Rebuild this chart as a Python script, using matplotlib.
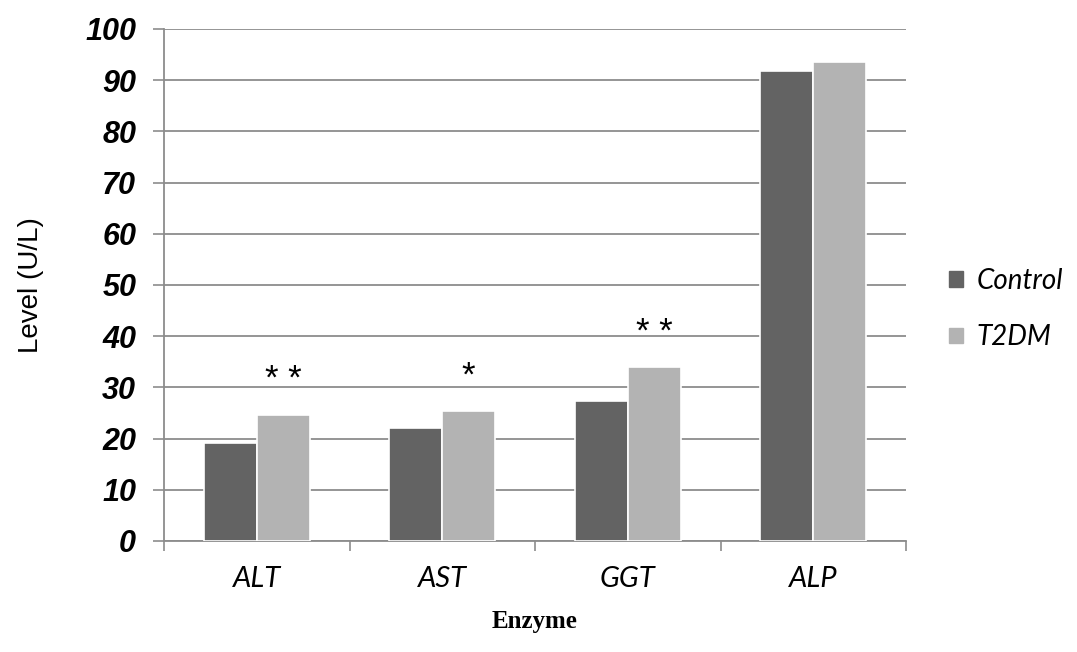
import matplotlib
matplotlib.use("Agg")
import matplotlib.pyplot as plt
import numpy as np
from matplotlib.patches import Patch

categories = ["ALT", "AST", "GGT", "ALP"]
control = [19.2, 22.0, 27.3, 91.8]
t2dm = [24.7, 25.4, 34.0, 93.6]
stars = ["* *", "*", "* *", ""]
yticks = [0, 10, 20, 30, 40, 50, 60, 70, 80, 90, 100]

fig = plt.figure(figsize=(10.77, 6.52), dpi=100)
ax = fig.add_axes([164/1077, 1-541/652, (906-164)/1077, (541-29)/652])

x = np.arange(len(categories))
w = 0.285
c1, c2 = "#636363", "#b3b3b3"
ax.bar(x - w/2, control, w, color=c1, edgecolor="white", linewidth=1.2, zorder=3)
ax.bar(x + w/2, t2dm, w, color=c2, edgecolor="white", linewidth=1.2, zorder=3)

for i, s in enumerate(stars):
    if s:
        ax.text(x[i] + w/2, t2dm[i] + 6.8, s, ha="center", va="center",
                fontsize=25, family="Liberation Sans", zorder=4)

ax.set_xlim(-0.5, len(categories) - 0.5)
ax.set_ylim(0, 100)
ax.set_yticks(yticks)
ax.set_yticklabels([str(v) for v in yticks], fontsize=22, fontweight="bold",
                   fontstyle="italic", family="Liberation Sans")
ax.set_xticks(x)
ax.set_xticklabels(categories, fontsize=21, fontstyle="italic", family="Lato")
ax.set_xticks(np.arange(-0.5, len(categories)), minor=True)
ax.tick_params(axis="x", which="major", length=0, pad=18)
ax.tick_params(axis="x", which="minor", length=7, color="#8c8c8c", width=1.2)
ax.tick_params(axis="y", length=8, color="#8c8c8c", width=1.2, pad=12)

ax.yaxis.grid(True, color="#8c8c8c", linewidth=1.3, zorder=0)
ax.set_axisbelow(True)
for sp in ["top", "right"]:
    ax.spines[sp].set_visible(False)
for sp in ["left", "bottom"]:
    ax.spines[sp].set_color("#8c8c8c")
    ax.spines[sp].set_linewidth(1.3)

ax.set_ylabel("Level (U/L)", fontsize=20, family="Liberation Sans", labelpad=30)
ax.set_xlabel("Enzyme", fontsize=18, fontweight="bold", family="Liberation Serif", labelpad=13)

handles = [Patch(color=c1, label="Control"), Patch(color=c2, label="T2DM")]
fig.legend(handles=handles, loc="center left", bbox_to_anchor=(924/1077, 1-309/652),
           frameon=False, prop={"family": "Lato", "style": "italic", "size": 20},
           handlelength=0.5, handleheight=0.5, handletextpad=0.5, labelspacing=1.1)

fig.savefig("out.png", dpi=100)
